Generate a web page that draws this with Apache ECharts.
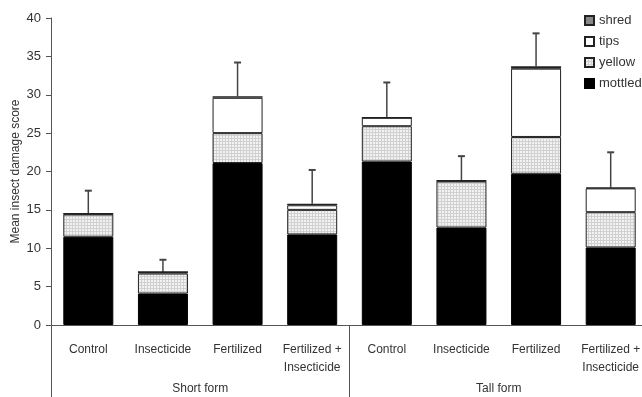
<!DOCTYPE html>
<html><head><meta charset="utf-8">
<script src="https://cdn.jsdelivr.net/npm/echarts@6/dist/echarts.min.js"></script>
<style>html,body{margin:0;padding:0;background:#fff}#c{width:642px;height:397px}</style>
</head><body><div id="c"></div>
<script>
const categories = ['Control','Insecticide','Fertilized','Fertilized +\nInsecticide','Control','Insecticide','Fertilized','Fertilized +\nInsecticide'];
const groups = ['Short form','Tall form'];
const mottled = [11.5, 4.1, 21.1, 11.8, 21.3, 12.7, 19.7, 10.1];
const yellow  = [2.9, 2.6, 3.9, 3.2, 4.6, 6.0, 4.8, 4.6];
const tips    = [0.1, 0.2, 4.6, 0.6, 1.1, 0.1, 8.9, 3.1];
const shred   = [0.0, 0.0, 0.2, 0.2, 0.0, 0.0, 0.3, 0.1];
const errors  = [3.0, 1.6, 4.4, 4.4, 4.6, 3.2, 4.3, 4.6];
const yTicks = [0,5,10,15,20,25,30,35,40];

const totals = mottled.map((v,i)=>v+yellow[i]+tips[i]+shred[i]);
const errData = totals.map((t,i)=>[i, t, t+errors[i]]);

const pc = document.createElement('canvas');
pc.width = 3; pc.height = 3;
const g = pc.getContext('2d');
g.fillStyle = '#f2f2f2'; g.fillRect(0,0,3,3);
g.fillStyle = '#d0d0d0'; g.fillRect(0,0,3,1); g.fillRect(0,0,1,3);
const pattern = {image: pc, repeat: 'repeat'};

const font = 'Liberation Sans';
const chart = echarts.init(document.getElementById('c'), null, {renderer:'canvas'});
const barBase = {type:'bar', stack:'s', barWidth:50, xAxisIndex:0, yAxisIndex:0};
chart.setOption({
  animation:false,
  textStyle:{fontFamily:font},
  grid:{left:51, top:18, width:597, bottom:72, containLabel:false, outerBoundsMode:'none'},
  legend:{
    orient:'vertical', left:579, top:9, itemWidth:9, itemHeight:9, itemGap:8, icon:'rect',
    data:['shred','tips','yellow','mottled'],
    textStyle:{fontFamily:font, fontSize:13, color:'#333'}
  },
  xAxis:[{
    type:'category', data:categories, position:'bottom',
    axisLine:{show:true, lineStyle:{color:'#555', width:1}},
    axisTick:{show:false},
    axisLabel:{interval:0, margin:16, fontSize:12, color:'#333', fontFamily:font, lineHeight:18}
  },{
    type:'category', data:groups, position:'bottom',
    axisLine:{show:false},
    axisTick:{show:true, length:72, interval:0, lineStyle:{color:'#555', width:1}},
    axisLabel:{interval:0, margin:58, fontSize:12, color:'#333', fontFamily:font}
  }],
  yAxis:{
    type:'value', min:0, max:40, interval:5,
    name:'Mean insect damage score', nameLocation:'middle', nameGap:29, nameMoveOverlap:false,
    nameTextStyle:{fontFamily:font, fontSize:12, color:'#333'},
    axisLine:{show:true, lineStyle:{color:'#555'}},
    axisTick:{show:true, length:5, lineStyle:{color:'#555'}},
    axisLabel:{fontSize:13, color:'#333', margin:10, fontFamily:font,
      formatter:v=>yTicks.includes(v)?String(v):''},
    splitLine:{show:false}
  },
  series:[
    Object.assign({}, barBase, {name:'mottled', data:mottled, itemStyle:{color:'#000', borderColor:'#000', borderWidth:1}}),
    Object.assign({}, barBase, {name:'yellow', data:yellow, itemStyle:{color:pattern, borderColor:'#222', borderWidth:1}}),
    Object.assign({}, barBase, {name:'tips', data:tips, itemStyle:{color:'#fff', borderColor:'#222', borderWidth:1}}),
    Object.assign({}, barBase, {name:'shred', data:shred, itemStyle:{color:'#888', borderColor:'#222', borderWidth:1.5}}),
    {
      type:'custom', name:'err', data:errData, z:1,
      encode:{x:0, y:[1,2]},
      renderItem:function(params, api){
        const i = api.value(0);
        const p0 = api.coord([i, api.value(1)]);
        const p1 = api.coord([i, api.value(2)]);
        return {type:'group', children:[
          {type:'line', shape:{x1:p0[0], y1:p0[1], x2:p1[0], y2:p1[1]}, style:{stroke:'#444', lineWidth:1.5}},
          {type:'line', shape:{x1:p1[0]-3.5, y1:p1[1], x2:p1[0]+3.5, y2:p1[1]}, style:{stroke:'#444', lineWidth:2}}
        ]};
      }
    }
  ]
});
</script></body></html>
